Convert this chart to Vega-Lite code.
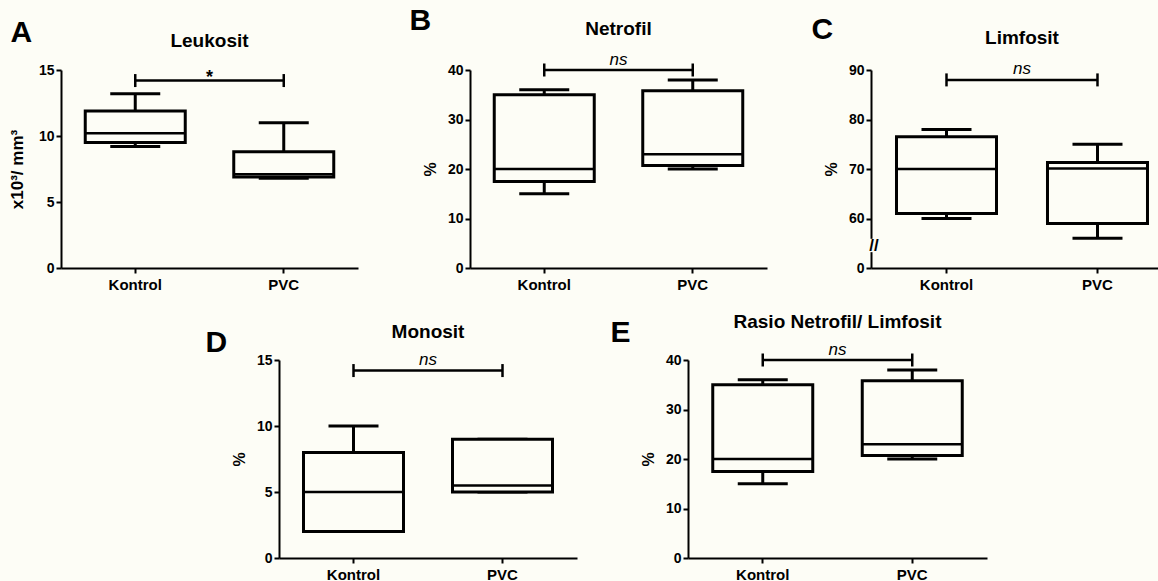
{
  "$schema": "https://vega.github.io/schema/vega-lite/v6.json",
  "background": "#fdfdf6",
  "padding": {"left": 8, "top": 6, "right": 0, "bottom": 0},
  "config": {
    "view": {"stroke": null},
    "font": "Liberation Sans",
    "title": {"font": "Liberation Sans", "fontWeight": "bold", "color": "black", "fontSize": 19},
    "axis": {"domainColor": "black", "domainWidth": 2, "tickColor": "black", "tickWidth": 2, "tickSize": 5, "labelColor": "black", "labelFont": "Liberation Sans", "labelFontWeight": "bold", "labelFontSize": 14, "titleFont": "Liberation Sans", "titleFontWeight": "bold", "titleFontSize": 16, "titleColor": "black", "grid": false, "labelPadding": 2, "titlePadding": 9, "labelOverlap": false},
    "axisX": {"labelFontSize": 15, "labelAngle": 0, "labelPadding": 4},
    "tick": {"opacity": 1}
  },
  "datasets": {
    "boxA": [
      {"group": "Kontrol", "lo": 9.2, "q1": 9.5, "med": 10.2, "q3": 11.9, "hi": 13.2},
      {"group": "PVC", "lo": 6.8, "q1": 6.9, "med": 7.1, "q3": 8.8, "hi": 11}
    ],
    "sigA": [{"from": "Kontrol", "to": "PVC", "y": 14.2, "label": "*"}],
    "boxB": [
      {"group": "Kontrol", "lo": 15, "q1": 17.5, "med": 20, "q3": 35, "hi": 36},
      {"group": "PVC", "lo": 20, "q1": 20.7, "med": 23, "q3": 35.8, "hi": 38}
    ],
    "sigB": [{"from": "Kontrol", "to": "PVC", "y": 40, "label": "ns"}],
    "boxC": [
      {"group": "Kontrol", "lo": 60, "q1": 61, "med": 70, "q3": 76.5, "hi": 78},
      {"group": "PVC", "lo": 56, "q1": 59, "med": 70.1, "q3": 71.3, "hi": 75}
    ],
    "sigC": [{"from": "Kontrol", "to": "PVC", "y": 88, "label": "ns"}],
    "boxD": [
      {"group": "Kontrol", "lo": 2, "q1": 2, "med": 5, "q3": 8, "hi": 10},
      {"group": "PVC", "lo": 5, "q1": 5, "med": 5.5, "q3": 9, "hi": 9}
    ],
    "sigD": [{"from": "Kontrol", "to": "PVC", "y": 14.2, "label": "ns"}],
    "boxE": [
      {"group": "Kontrol", "lo": 15, "q1": 17.5, "med": 20, "q3": 35, "hi": 36},
      {"group": "PVC", "lo": 20, "q1": 20.7, "med": 23, "q3": 35.8, "hi": 38}
    ],
    "sigE": [{"from": "Kontrol", "to": "PVC", "y": 40, "label": "ns"}]
  },
  "vconcat": [
    {
      "spacing": 51,
      "hconcat": [
        {
          "title": {"text": "A", "anchor": "start", "fontSize": 30, "offset": -16, "dx": 2},
          "vconcat": [{
            "width": 297, "height": 198,
            "title": {"text": "Leukosit", "frame": "group", "offset": 12},
            "layer": [
              {"data": {"name": "boxA"}, "mark": {"type": "rule", "color": "black", "strokeWidth": 3},
               "encoding": {"x": {"field": "group", "type": "nominal", "scale": {"type": "band", "paddingInner": 0, "paddingOuter": 0}, "axis": {"title": null}},
                            "y": {"field": "lo", "type": "quantitative", "scale": {"domain": [0, 15], "nice": false}, "axis": {"values": [0, 5, 10, 15], "title": "x10³/ mm³", "titleFontSize": 17, "titlePadding": 12}},
                            "y2": {"field": "hi"}}},
              {"data": {"name": "boxA"}, "mark": {"type": "tick", "color": "black", "size": 50, "thickness": 3},
               "encoding": {"x": {"field": "group", "type": "nominal"}, "y": {"field": "lo", "type": "quantitative"}}},
              {"data": {"name": "boxA"}, "mark": {"type": "tick", "color": "black", "size": 50, "thickness": 3},
               "encoding": {"x": {"field": "group", "type": "nominal"}, "y": {"field": "hi", "type": "quantitative"}}},
              {"data": {"name": "boxA"}, "mark": {"type": "bar", "width": 100, "fill": "#fdfdf6", "stroke": "black", "strokeWidth": 3},
               "encoding": {"x": {"field": "group", "type": "nominal"}, "y": {"field": "q1", "type": "quantitative"}, "y2": {"field": "q3"}}},
              {"data": {"name": "boxA"}, "mark": {"type": "tick", "color": "black", "size": 100, "thickness": 2.5},
               "encoding": {"x": {"field": "group", "type": "nominal"}, "y": {"field": "med", "type": "quantitative"}}},
              {"data": {"name": "sigA"}, "mark": {"type": "rule", "color": "black", "strokeWidth": 2.5},
               "encoding": {"x": {"field": "from", "type": "nominal"}, "x2": {"field": "to"}, "y": {"field": "y", "type": "quantitative"}}},
              {"data": {"name": "sigA"}, "mark": {"type": "tick", "orient": "vertical", "color": "black", "size": 13, "thickness": 2.5},
               "encoding": {"x": {"field": "from", "type": "nominal"}, "y": {"field": "y", "type": "quantitative"}}},
              {"data": {"name": "sigA"}, "mark": {"type": "tick", "orient": "vertical", "color": "black", "size": 13, "thickness": 2.5},
               "encoding": {"x": {"field": "to", "type": "nominal"}, "y": {"field": "y", "type": "quantitative"}}},
              {"data": {"name": "sigA"}, "mark": {"type": "text", "color": "black", "fontSize": 18, "fontWeight": "bold", "baseline": "alphabetic", "dy": 2},
               "encoding": {"x": {"field": "from", "type": "nominal", "bandPosition": 1}, "y": {"field": "y", "type": "quantitative"}, "text": {"field": "label"}}}
            ]
          }]
        },
        {
          "spacing": 44,
          "hconcat": [
            {
              "title": {"text": "B", "anchor": "start", "fontSize": 30, "offset": -16, "dx": -13},
              "vconcat": [{
                "width": 297, "height": 198,
                "title": {"text": "Netrofil", "frame": "group", "offset": 12},
                "layer": [
                  {"data": {"name": "boxB"}, "mark": {"type": "rule", "color": "black", "strokeWidth": 3},
                   "encoding": {"x": {"field": "group", "type": "nominal", "scale": {"type": "band", "paddingInner": 0, "paddingOuter": 0}, "axis": {"title": null}},
                                "y": {"field": "lo", "type": "quantitative", "scale": {"domain": [0, 40], "nice": false}, "axis": {"values": [0, 10, 20, 30, 40], "title": "%"}},
                                "y2": {"field": "hi"}}},
                  {"data": {"name": "boxB"}, "mark": {"type": "tick", "color": "black", "size": 50, "thickness": 3},
                   "encoding": {"x": {"field": "group", "type": "nominal"}, "y": {"field": "lo", "type": "quantitative"}}},
                  {"data": {"name": "boxB"}, "mark": {"type": "tick", "color": "black", "size": 50, "thickness": 3},
                   "encoding": {"x": {"field": "group", "type": "nominal"}, "y": {"field": "hi", "type": "quantitative"}}},
                  {"data": {"name": "boxB"}, "mark": {"type": "bar", "width": 100, "fill": "#fdfdf6", "stroke": "black", "strokeWidth": 3},
                   "encoding": {"x": {"field": "group", "type": "nominal"}, "y": {"field": "q1", "type": "quantitative"}, "y2": {"field": "q3"}}},
                  {"data": {"name": "boxB"}, "mark": {"type": "tick", "color": "black", "size": 100, "thickness": 2.5},
                   "encoding": {"x": {"field": "group", "type": "nominal"}, "y": {"field": "med", "type": "quantitative"}}},
                  {"data": {"name": "sigB"}, "mark": {"type": "rule", "color": "black", "strokeWidth": 2.5},
                   "encoding": {"x": {"field": "from", "type": "nominal"}, "x2": {"field": "to"}, "y": {"field": "y", "type": "quantitative"}}},
                  {"data": {"name": "sigB"}, "mark": {"type": "tick", "orient": "vertical", "color": "black", "size": 13, "thickness": 2.5},
                   "encoding": {"x": {"field": "from", "type": "nominal"}, "y": {"field": "y", "type": "quantitative"}}},
                  {"data": {"name": "sigB"}, "mark": {"type": "tick", "orient": "vertical", "color": "black", "size": 13, "thickness": 2.5},
                   "encoding": {"x": {"field": "to", "type": "nominal"}, "y": {"field": "y", "type": "quantitative"}}},
                  {"data": {"name": "sigB"}, "mark": {"type": "text", "color": "black", "fontSize": 17, "fontStyle": "italic", "baseline": "alphabetic", "dy": -5},
                   "encoding": {"x": {"field": "from", "type": "nominal", "bandPosition": 1}, "y": {"field": "y", "type": "quantitative"}, "text": {"field": "label"}}}
                ]
              }]
            },
            {
              "title": {"text": "C", "anchor": "start", "fontSize": 30, "offset": -16, "dx": -12},
              "vconcat": [{
                "width": 334, "height": 198,
                "title": {"text": "Limfosit", "frame": "group", "offset": 12, "dx": -16},
                "layer": [
                  {"data": {"name": "boxC"}, "mark": {"type": "rule", "color": "black", "strokeWidth": 3},
                   "encoding": {"x": {"field": "group", "type": "nominal", "scale": {"type": "band", "paddingInner": 0, "paddingOuter": 0.106, "align": 0}, "axis": {"title": null}},
                                "y": {"field": "lo", "type": "quantitative", "scale": {"domain": [50, 90], "nice": false, "zero": false},
                                      "axis": {"values": [50, 60, 70, 80, 90], "title": "%",
                                               "labelExpr": "datum.value == 50 ? '0' : datum.label"}},
                                "y2": {"field": "hi"}}},
                  {"data": {"name": "boxC"}, "mark": {"type": "tick", "color": "black", "size": 50, "thickness": 3},
                   "encoding": {"x": {"field": "group", "type": "nominal"}, "y": {"field": "lo", "type": "quantitative"}}},
                  {"data": {"name": "boxC"}, "mark": {"type": "tick", "color": "black", "size": 50, "thickness": 3},
                   "encoding": {"x": {"field": "group", "type": "nominal"}, "y": {"field": "hi", "type": "quantitative"}}},
                  {"data": {"name": "boxC"}, "mark": {"type": "bar", "width": 100, "fill": "#fdfdf6", "stroke": "black", "strokeWidth": 3},
                   "encoding": {"x": {"field": "group", "type": "nominal"}, "y": {"field": "q1", "type": "quantitative"}, "y2": {"field": "q3"}}},
                  {"data": {"name": "boxC"}, "mark": {"type": "tick", "color": "black", "size": 100, "thickness": 2.5},
                   "encoding": {"x": {"field": "group", "type": "nominal"}, "y": {"field": "med", "type": "quantitative"}}},
                  {"data": {"name": "sigC"}, "mark": {"type": "rule", "color": "black", "strokeWidth": 2.5},
                   "encoding": {"x": {"field": "from", "type": "nominal"}, "x2": {"field": "to"}, "y": {"field": "y", "type": "quantitative"}}},
                  {"data": {"name": "sigC"}, "mark": {"type": "tick", "orient": "vertical", "color": "black", "size": 13, "thickness": 2.5},
                   "encoding": {"x": {"field": "from", "type": "nominal"}, "y": {"field": "y", "type": "quantitative"}}},
                  {"data": {"name": "sigC"}, "mark": {"type": "tick", "orient": "vertical", "color": "black", "size": 13, "thickness": 2.5},
                   "encoding": {"x": {"field": "to", "type": "nominal"}, "y": {"field": "y", "type": "quantitative"}}},
                  {"data": {"name": "sigC"}, "mark": {"type": "text", "color": "black", "fontSize": 17, "fontStyle": "italic", "baseline": "alphabetic", "dy": -6},
                   "encoding": {"x": {"field": "from", "type": "nominal", "bandPosition": 1}, "y": {"field": "y", "type": "quantitative"}, "text": {"field": "label"}}},
                  {"data": {"name": "sigC"}, "mark": {"type": "rule", "color": "#fdfdf6", "strokeWidth": 7},
                   "encoding": {"x": {"datum": "Kontrol", "type": "nominal", "bandPosition": 0}, "y": {"datum": 53.2, "type": "quantitative"}, "y2": {"datum": 55.9}}},
                  {"data": {"name": "sigC"}, "mark": {"type": "text", "text": "//", "color": "black", "fontSize": 17, "fontWeight": "bold", "dx": 3},
                   "encoding": {"x": {"datum": "Kontrol", "type": "nominal", "bandPosition": 0}, "y": {"datum": 54.5, "type": "quantitative"}}}
                ]
              }]
            }
          ]
        }
      ]
    },
    {
      "spacing": 33,
      "hconcat": [
        {
          "title": {"text": "D", "anchor": "start", "fontSize": 30, "offset": -35, "dx": -26},
          "vconcat": [{
            "width": 298, "height": 198,
            "title": {"text": "Monosit", "frame": "group", "offset": 9},
            "layer": [
              {"data": {"name": "boxD"}, "mark": {"type": "rule", "color": "black", "strokeWidth": 3},
               "encoding": {"x": {"field": "group", "type": "nominal", "scale": {"type": "band", "paddingInner": 0, "paddingOuter": 0}, "axis": {"title": null}},
                            "y": {"field": "lo", "type": "quantitative", "scale": {"domain": [0, 15], "nice": false}, "axis": {"values": [0, 5, 10, 15], "title": "%"}},
                            "y2": {"field": "hi"}}},
              {"data": {"name": "boxD"}, "mark": {"type": "tick", "color": "black", "size": 50, "thickness": 3},
               "encoding": {"x": {"field": "group", "type": "nominal"}, "y": {"field": "lo", "type": "quantitative"}}},
              {"data": {"name": "boxD"}, "mark": {"type": "tick", "color": "black", "size": 50, "thickness": 3},
               "encoding": {"x": {"field": "group", "type": "nominal"}, "y": {"field": "hi", "type": "quantitative"}}},
              {"data": {"name": "boxD"}, "mark": {"type": "bar", "width": 100, "fill": "#fdfdf6", "stroke": "black", "strokeWidth": 3},
               "encoding": {"x": {"field": "group", "type": "nominal"}, "y": {"field": "q1", "type": "quantitative"}, "y2": {"field": "q3"}}},
              {"data": {"name": "boxD"}, "mark": {"type": "tick", "color": "black", "size": 100, "thickness": 2.5},
               "encoding": {"x": {"field": "group", "type": "nominal"}, "y": {"field": "med", "type": "quantitative"}}},
              {"data": {"name": "sigD"}, "mark": {"type": "rule", "color": "black", "strokeWidth": 2.5},
               "encoding": {"x": {"field": "from", "type": "nominal"}, "x2": {"field": "to"}, "y": {"field": "y", "type": "quantitative"}}},
              {"data": {"name": "sigD"}, "mark": {"type": "tick", "orient": "vertical", "color": "black", "size": 13, "thickness": 2.5},
               "encoding": {"x": {"field": "from", "type": "nominal"}, "y": {"field": "y", "type": "quantitative"}}},
              {"data": {"name": "sigD"}, "mark": {"type": "tick", "orient": "vertical", "color": "black", "size": 13, "thickness": 2.5},
               "encoding": {"x": {"field": "to", "type": "nominal"}, "y": {"field": "y", "type": "quantitative"}}},
              {"data": {"name": "sigD"}, "mark": {"type": "text", "color": "black", "fontSize": 17, "fontStyle": "italic", "baseline": "alphabetic", "dy": -6},
               "encoding": {"x": {"field": "from", "type": "nominal", "bandPosition": 1}, "y": {"field": "y", "type": "quantitative"}, "text": {"field": "label"}}}
            ]
          }]
        },
        {
          "title": {"text": "E", "anchor": "start", "fontSize": 30, "offset": -35, "dx": -30},
          "vconcat": [{
            "width": 299, "height": 198,
            "title": {"text": "Rasio Netrofil/ Limfosit", "frame": "group", "offset": 9},
            "layer": [
              {"data": {"name": "boxE"}, "mark": {"type": "rule", "color": "black", "strokeWidth": 3},
               "encoding": {"x": {"field": "group", "type": "nominal", "scale": {"type": "band", "paddingInner": 0, "paddingOuter": 0}, "axis": {"title": null}},
                            "y": {"field": "lo", "type": "quantitative", "scale": {"domain": [0, 40], "nice": false}, "axis": {"values": [0, 10, 20, 30, 40], "title": "%"}},
                            "y2": {"field": "hi"}}},
              {"data": {"name": "boxE"}, "mark": {"type": "tick", "color": "black", "size": 50, "thickness": 3},
               "encoding": {"x": {"field": "group", "type": "nominal"}, "y": {"field": "lo", "type": "quantitative"}}},
              {"data": {"name": "boxE"}, "mark": {"type": "tick", "color": "black", "size": 50, "thickness": 3},
               "encoding": {"x": {"field": "group", "type": "nominal"}, "y": {"field": "hi", "type": "quantitative"}}},
              {"data": {"name": "boxE"}, "mark": {"type": "bar", "width": 100, "fill": "#fdfdf6", "stroke": "black", "strokeWidth": 3},
               "encoding": {"x": {"field": "group", "type": "nominal"}, "y": {"field": "q1", "type": "quantitative"}, "y2": {"field": "q3"}}},
              {"data": {"name": "boxE"}, "mark": {"type": "tick", "color": "black", "size": 100, "thickness": 2.5},
               "encoding": {"x": {"field": "group", "type": "nominal"}, "y": {"field": "med", "type": "quantitative"}}},
              {"data": {"name": "sigE"}, "mark": {"type": "rule", "color": "black", "strokeWidth": 2.5},
               "encoding": {"x": {"field": "from", "type": "nominal"}, "x2": {"field": "to"}, "y": {"field": "y", "type": "quantitative"}}},
              {"data": {"name": "sigE"}, "mark": {"type": "tick", "orient": "vertical", "color": "black", "size": 13, "thickness": 2.5},
               "encoding": {"x": {"field": "from", "type": "nominal"}, "y": {"field": "y", "type": "quantitative"}}},
              {"data": {"name": "sigE"}, "mark": {"type": "tick", "orient": "vertical", "color": "black", "size": 13, "thickness": 2.5},
               "encoding": {"x": {"field": "to", "type": "nominal"}, "y": {"field": "y", "type": "quantitative"}}},
              {"data": {"name": "sigE"}, "mark": {"type": "text", "color": "black", "fontSize": 17, "fontStyle": "italic", "baseline": "alphabetic", "dy": -5},
               "encoding": {"x": {"field": "from", "type": "nominal", "bandPosition": 1}, "y": {"field": "y", "type": "quantitative"}, "text": {"field": "label"}}}
            ]
          }]
        }
      ]
    }
  ],
  "spacing": 21,
  "center": true
}
